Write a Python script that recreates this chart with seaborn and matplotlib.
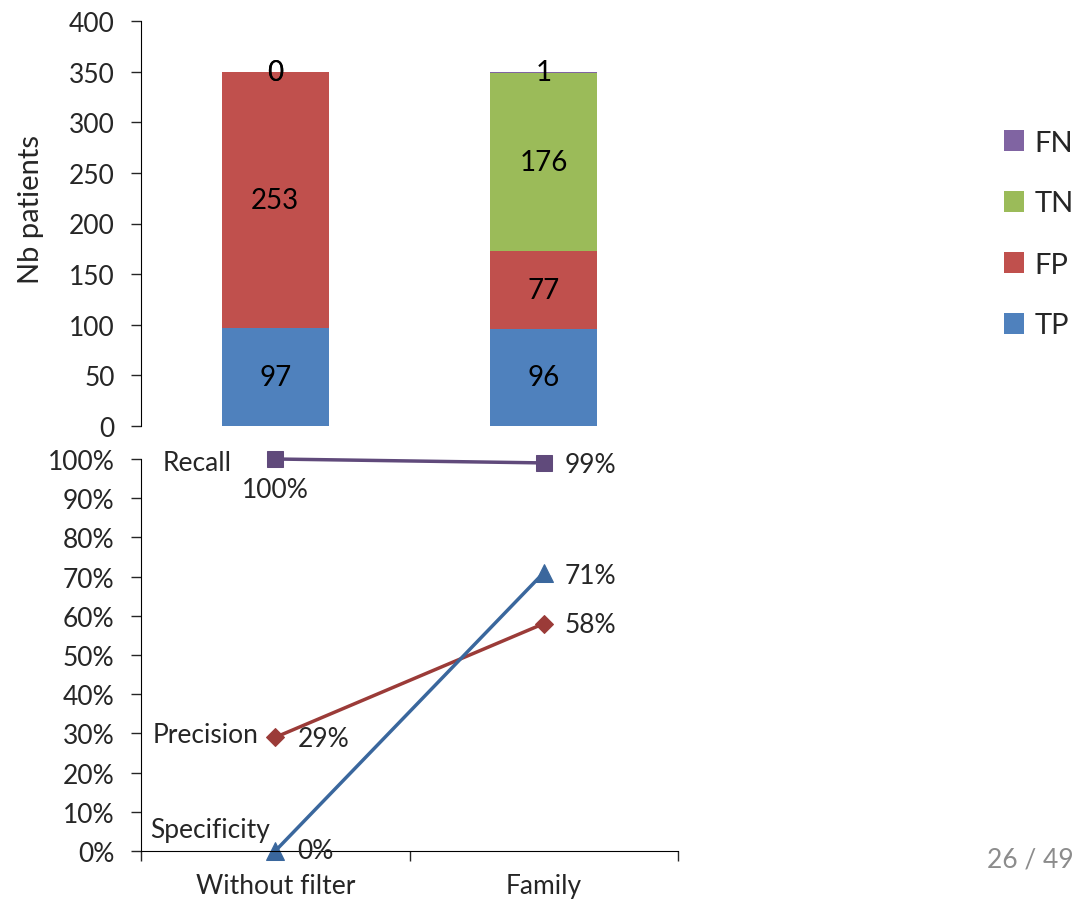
import matplotlib
matplotlib.use("Agg")
import matplotlib.pyplot as plt
from matplotlib.patches import Patch
import numpy as np
import pandas as pd
import seaborn as sns

# Patient counts per filtering strategy
categories = ["Without filter", "Family"]
tp = [97, 96]
fp = [253, 77]
tn = [0, 176]
fn = [0, 1]

# Evaluation metrics (%)
recall = [100, 99]
precision = [29, 58]
specificity = [0, 71]

sns.set_style("white")
plt.rcParams["font.family"] = ["Lato", "DejaVu Sans"]

C_TP, C_FP, C_TN, C_FN = "#4F81BD", "#C0504D", "#9BBB59", "#8064A2"

fig = plt.figure(figsize=(10.78, 9.03), dpi=100)
W, H = 1078, 903
x0, x1 = 141 / W, 678 / W
ax_top = fig.add_axes([x0, 1 - 427 / H, x1 - x0, (427 - 22) / H])
ax_bot = fig.add_axes([x0, 1 - 852 / H, x1 - x0, (852 - 460) / H])

TICK_FS = 19

# ---- stacked bars ----
series = [("TP", tp, C_TP), ("FP", fp, C_FP), ("TN", tn, C_TN), ("FN", fn, C_FN)]
bottom = np.zeros(len(categories))
for name, vals, col in series:
    df = pd.DataFrame({"cat": categories, "val": vals})
    sns.barplot(data=df, x="cat", y="val", color=col, width=0.4,
                bottom=bottom, ax=ax_top, saturation=1, edgecolor="none")
    for i, v in enumerate(vals):
        ax_top.text(i, bottom[i] + v / 2, f"{v}", ha="center", va="center",
                    fontsize=20, color="black")
    bottom = bottom + np.array(vals)

ax_top.set_xlim(-0.5, 1.5)
ax_top.set_ylim(0, 400)
ax_top.set_yticks(range(0, 401, 50))
ax_top.set_xticks([])
ax_top.set_xlabel("")
ax_top.set_ylabel("Nb patients", fontsize=21)
ax_top.yaxis.set_label_coords(-0.18, 0.538)
for s in ["top", "right", "bottom"]:
    ax_top.spines[s].set_visible(False)
ax_top.spines["left"].set_color("black")
ax_top.tick_params(axis="y", which="major", left=True, direction="out",
                   length=7, width=1, labelsize=TICK_FS, pad=12)
ax_top.patch.set_alpha(0)

# ---- metric lines ----
pos = np.arange(len(categories))
lines = [
    ("Recall", recall, "#604A7B", "s", 12),
    ("Precision", precision, "#9B3B38", "D", 9),
    ("Specificity", specificity, "#3A679D", "^", 13),
]
for name, vals, col, mk, ms in lines:
    sns.lineplot(x=pos, y=vals, color=col, marker=mk, markersize=ms,
                 markeredgecolor=col, linewidth=2.5, ax=ax_bot, legend=False,
                 clip_on=False)

fs = TICK_FS
ax_bot.text(-0.161, 99.0, "Recall", ha="right", va="center", fontsize=fs)
ax_bot.text(0.0, 92.3, f"{recall[0]}%", ha="center", va="center", fontsize=fs)
ax_bot.text(1.079, recall[1] - 0.3, f"{recall[1]}%", ha="left", va="center", fontsize=fs)
ax_bot.text(1.079, specificity[1] - 0.6, f"{specificity[1]}%", ha="left", va="center", fontsize=fs)
ax_bot.text(1.079, precision[1] - 0.3, f"{precision[1]}%", ha="left", va="center", fontsize=fs)
ax_bot.text(-0.064, precision[0] + 0.8, "Precision", ha="right", va="center", fontsize=fs)
ax_bot.text(0.085, precision[0] - 0.4, f"{precision[0]}%", ha="left", va="center", fontsize=fs)
ax_bot.text(-0.02, 5.6, "Specificity", ha="right", va="center", fontsize=fs)
ax_bot.text(0.081, specificity[0], f"{specificity[0]}%", ha="left", va="center", fontsize=fs)

ax_bot.set_xlim(-0.5, 1.5)
ax_bot.set_ylim(0, 100)
ax_bot.set_yticks(range(0, 101, 10))
ax_bot.set_yticklabels([f"{v}%" for v in range(0, 101, 10)])
ax_bot.set_xticks([-0.5, 0.5, 1.5])
ax_bot.set_xticklabels([])
ax_bot.set_xticks(pos, minor=True)
ax_bot.set_xticklabels(categories, minor=True)
for s in ["top", "right"]:
    ax_bot.spines[s].set_visible(False)
ax_bot.spines["left"].set_color("black")
ax_bot.spines["bottom"].set_color("black")
ax_bot.tick_params(axis="both", which="major", direction="out", length=7,
                   width=1, labelsize=TICK_FS, left=True, bottom=True, pad=12)
ax_bot.tick_params(axis="x", which="minor", length=0, labelsize=TICK_FS, pad=16)
ax_bot.patch.set_alpha(0)

# ---- legend ----
handles = [Patch(facecolor=c, edgecolor="none") for c in (C_FN, C_TN, C_FP, C_TP)]
fig.legend(handles, ["FN", "TN", "FP", "TP"], loc="center left",
           bbox_to_anchor=(1004 / W, 1 - 235 / H), frameon=False, fontsize=21,
           handlelength=0.7, handleheight=0.7, labelspacing=1.2,
           handletextpad=0.35, borderpad=0, borderaxespad=0)

fig.text(1074 / W, 1 - 860 / H, "26 / 49", ha="right", va="center",
         fontsize=19, color="#8C8C8C")

fig.savefig("out.png", dpi=100)
